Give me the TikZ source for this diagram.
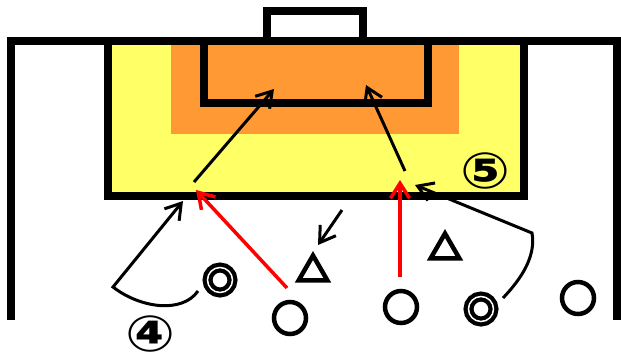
\documentclass[tikz,border=0pt]{standalone}
\usepackage{fontspec}
\newfontfamily\CircledFont{DejaVu Sans}
\usetikzlibrary{arrows.meta,shapes.geometric,shadows}
\definecolor{AreaYellow}{RGB}{255,255,102}
\definecolor{AreaOrange}{RGB}{255,153,51}
\tikzset{
  FieldLine/.style={line width=8pt},
  Player/.style={circle,draw,fill=white,line width=4.5pt,minimum size=32pt,inner sep=0pt,
    drop shadow={shadow xshift=1pt,shadow yshift=-1.5pt,opacity=0.3}},
  DoublePlayer/.style={circle,draw,fill=white,double=white,double distance=1.5pt,line width=4.25pt,
    minimum size=25pt,inner sep=0pt,drop shadow={shadow xshift=1pt,shadow yshift=-1.5pt,opacity=0.3}},
  Defender/.style={regular polygon,regular polygon sides=3,draw,fill=white,line width=4.5pt,
    minimum size=33pt,inner sep=0pt,drop shadow={shadow xshift=1pt,shadow yshift=-1.5pt,opacity=0.3}},
  RunArrow/.style={line width=3pt,-{Straight Barb[length=15pt,width=19pt]}},
  PassArrow/.style={RunArrow,red,line width=3.5pt},
  Tag/.style={font=\CircledFont\bfseries\fontsize{50}{50}\selectfont,inner sep=0pt,xscale=1.18}
}

\begin{document}
\begin{tikzpicture}[x=1pt,y=-1pt]
  \pgfmathsetmacro{\FieldTop}{41};
  \pgfmathsetmacro{\FieldBottom}{320};
  \pgfmathsetmacro{\BoxLeft}{108};
  \pgfmathsetmacro{\BoxRight}{524};
  \pgfmathsetmacro{\BoxBottom}{196};
  %
  \useasboundingbox (0,0) rectangle (621,360);
  % areas
  \fill[AreaYellow] (\BoxLeft,\FieldTop) rectangle (\BoxRight,\BoxBottom);
  \fill[AreaOrange] (171,\FieldTop) rectangle (459,134);
  % lines
  \draw[FieldLine] (\BoxLeft,\FieldTop) -- (\BoxLeft,\BoxBottom) -- (\BoxRight,\BoxBottom) -- (\BoxRight,\FieldTop);
  \draw[FieldLine] (203.5,\FieldTop) -- (203.5,103) -- (427.5,103) -- (427.5,\FieldTop);
  \draw[FieldLine] (267,\FieldTop) -- (267,11) -- (363,11) -- (363,\FieldTop);
  \draw[FieldLine] (11,\FieldBottom) -- (11,\FieldTop) -- (621,\FieldTop);
  \draw[FieldLine] (617,\FieldTop) -- (617,\FieldBottom);
  %
  \node[DoublePlayer] (Mid4) at (220,280) {};
  \node[Player] (Atk1) at (290,318) {};
  \node[Player] (Atk2) at (401,307) {};
  \node[DoublePlayer] (Mid5) at (481,309) {};
  \node[Player] (Atk3) at (578,298) {};
  \node[Defender] (Def1) at (313,272) {};
  \node[Defender] (Def2) at (445,250) {};
  %
  \node[Tag] (Tag4) at (150,334) {④};
  \node[Tag] (Tag5) at (485,171) {⑤};
  %
  \coordinate (Shot1From) at (194,182);
  \coordinate (Shot1To) at (274,89);
  \coordinate (Shot2From) at (405,171);
  \coordinate (Shot2To) at (366,85);
  \coordinate (Pass1From) at (287,288);
  \coordinate (Pass1To) at (196,190);
  \coordinate (Pass2From) at (400,277);
  \coordinate (Pass2To) at (400,180);
  \coordinate (Run4From) at (198,291);
  \coordinate (Run4Turn) at (113,287);
  \coordinate (Run4To) at (183,201);
  \coordinate (Run5From) at (503,298);
  \coordinate (Run5Turn) at (532,233);
  \coordinate (Run5To) at (415,185);
  \coordinate (DropFrom) at (342,210);
  \coordinate (DropTo) at (318,245);
  %
  \draw[RunArrow] (Shot1From) -- (Shot1To);
  \draw[RunArrow] (Shot2From) -- (Shot2To);
  \draw[PassArrow] (Pass1From) -- (Pass1To);
  \draw[PassArrow] (Pass2From) -- (Pass2To);
  \draw[RunArrow] (Run4From) .. controls (182,314) and (140,308) .. (Run4Turn) -- (Run4To);
  \draw[RunArrow] (Run5From) .. controls (522,278) and (536,256) .. (Run5Turn) -- (Run5To);
  \draw[RunArrow] (DropFrom) -- (DropTo);
\end{tikzpicture}
\end{document}
